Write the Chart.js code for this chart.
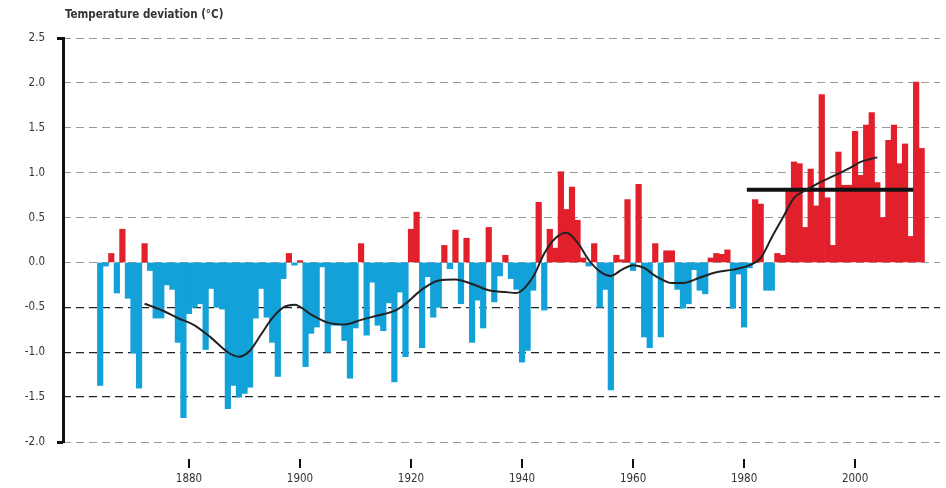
<!DOCTYPE html>
<html>
<head>
<meta charset="utf-8">
<script src="https://cdn.jsdelivr.net/npm/chart.js@4"></script>
<style>
    body { margin: 0; background: #fff; }
    #box { width: 946px; height: 488px; }
</style>
</head>
<body>
<div id="box"><canvas id="myChart"></canvas></div>
<script>
let firstYear = 1864;
let deviations = [
    -1.37, -0.04, 0.10, -0.34, 0.37, -0.40,
    -1.01, -1.40, 0.21, -0.09, -0.62, -0.62, -0.25, -0.30, -0.89, -1.73,
    -0.57, -0.50, -0.46, -0.97, -0.29, -0.50, -0.52, -1.63, -1.37, -1.50,
    -1.46, -1.39, -0.62, -0.29, -0.61, -0.89, -1.27, -0.18, 0.10, -0.03,
    0.02, -1.16, -0.79, -0.72, -0.05, -1.00, -0.70, -0.70, -0.87, -1.29,
    -0.73, 0.21, -0.81, -0.22, -0.70, -0.76, -0.45, -1.33, -0.33, -1.05,
    0.37, 0.56, -0.95, -0.16, -0.61, -0.50, 0.19, -0.07, 0.36, -0.46,
    0.27, -0.89, -0.42, -0.73, 0.39, -0.44, -0.15, 0.08, -0.18, -0.30,
    -1.11, -0.98, -0.31, 0.67, -0.53, 0.37, 0.16, 1.01, 0.59, 0.84,
    0.47, 0.05, -0.04, 0.21, -0.50, -0.30, -1.42, 0.08, 0.03, 0.70,
    -0.09, 0.87, -0.83, -0.95, 0.21, -0.83, 0.13, 0.13, -0.30, -0.51,
    -0.46, -0.08, -0.31, -0.35, 0.05, 0.10, 0.09, 0.14, -0.51, -0.13,
    -0.72, -0.06, 0.70, 0.65, -0.31, -0.31, 0.10, 0.08, 0.80, 1.12,
    1.10, 0.39, 1.04, 0.63, 1.87, 0.72, 0.19, 1.23, 0.86, 0.86,
    1.46, 0.97, 1.53, 1.67, 0.89, 0.50, 1.36, 1.53, 1.10, 1.32,
    0.29, 2.01, 1.27
];
let years = deviations.map((v, i) => firstYear + i);

// smoothed trend
let trendYears = [1872, 1875, 1878, 1881, 1884, 1887, 1889, 1891, 1893, 1895, 1897, 1899,
    1902, 1905, 1908, 1911, 1914, 1917, 1919, 1922, 1925, 1928, 1931, 1934, 1937, 1939,
    1942, 1944, 1946, 1948, 1950, 1952, 1954, 1956, 1958, 1960, 1962, 1964, 1967, 1969,
    1972, 1975, 1978, 1981, 1983, 1985, 1987, 1989, 1991, 1993, 1995, 1997, 1999, 2001, 2004];
let trendValues = [-0.46, -0.53, -0.62, -0.70, -0.84, -1.00, -1.05, -0.98, -0.80, -0.62, -0.50, -0.47,
    -0.58, -0.67, -0.69, -0.64, -0.59, -0.54, -0.46, -0.30, -0.20, -0.19, -0.24, -0.31, -0.33, -0.34,
    -0.16, 0.10, 0.27, 0.33, 0.22, 0.03, -0.10, -0.15, -0.08, -0.03, -0.06, -0.15, -0.23, -0.23,
    -0.17, -0.11, -0.08, -0.03, 0.05, 0.28, 0.50, 0.72, 0.80, 0.87, 0.93, 0.99, 1.05, 1.12, 1.17];

// 1981-2010 mean
let meanYears = [1980.5, 2010.5];
let meanValue = 0.81;

let yTicks = [2.5, 2.0, 1.5, 1.0, 0.5, 0, -0.5, -1.0, -1.5, -2.0];
let xTicks = [1880, 1900, 1920, 1940, 1960, 1980, 2000];

const fontFam = "'Liberation Sans Narrow', 'DejaVu Sans Condensed', 'Roboto', sans-serif";
const red = '#e2202b';
const blue = '#12a2d9';

const decor = {
    id: 'decor',
    afterDraw(chart) {
        const c = chart.ctx;
        const area = chart.chartArea;
        const xs = chart.scales.x;
        c.save();
        // y axis with end tabs
        c.fillStyle = '#111';
        c.fillRect(62, area.top - 1, 3, area.bottom - area.top + 2);
        c.fillRect(57, area.top - 1, 6, 3);
        c.fillRect(57, area.bottom - 1, 6, 3);
        // x tick marks
        xTicks.forEach(t => {
            const px = xs.getPixelForValue(t);
            c.fillRect(Math.round(px) - 1, 459, 2, 9);
        });
        // title
        c.font = "600 11.5px " + fontFam;
        c.fillStyle = '#333';
        c.textBaseline = 'middle';
        c.fillText('Temperature deviation (°C)', 65, 15);
        c.restore();
    }
};

window.addEventListener("load", () => {
    const ctx = document.getElementById('myChart').getContext('2d');
    const myChart = new Chart(ctx, {
        type: 'bar',
        data: {
            datasets: [{
                type: 'line',
                data: trendYears.map((y, i) => ({ x: y, y: trendValues[i] })),
                borderColor: '#222',
                borderWidth: 2,
                pointRadius: 0,
                cubicInterpolationMode: 'monotone',
                order: 0
            }, {
                type: 'line',
                data: meanYears.map(y => ({ x: y, y: meanValue })),
                borderColor: '#111',
                borderWidth: 4,
                pointRadius: 0,
                order: 0
            }, {
                data: years.map((y, i) => ({ x: y, y: deviations[i] })),
                backgroundColor: deviations.map(v => v >= 0 ? red : blue),
                borderWidth: 0,
                barPercentage: 1,
                categoryPercentage: 1,
                order: 2
            }]
        },
        options: {
            responsive: true,
            maintainAspectRatio: false,
            animation: false,
            layout: { padding: { top: 38, right: 6, left: 0, bottom: 0 } },
            plugins: {
                legend: { display: false },
                tooltip: { enabled: false }
            },
            scales: {
                x: {
                    type: 'linear',
                    offset: false,
                    min: 1857.3,
                    max: 2015.3,
                    afterBuildTicks: s => { s.ticks = xTicks.map(v => ({ value: v })); },
                    afterFit: s => { s.height = 46; },
                    grid: { display: false, drawTicks: false },
                    border: { display: false },
                    ticks: {
                        padding: 30,
                        maxRotation: 0,
                        color: '#333',
                        font: { family: fontFam, size: 11.5 },
                        callback: v => String(v)
                    }
                },
                y: {
                    min: -2.0,
                    max: 2.5,
                    afterBuildTicks: s => { s.ticks = yTicks.map(v => ({ value: v })); },
                    afterFit: s => { s.width = 63; },
                    grid: {
                        drawTicks: false,
                        color: c => c.tick && c.tick.value < 0 && c.tick.value > -2 ? '#222' : '#999',
                        lineWidth: c => c.tick && c.tick.value < 0 && c.tick.value > -2 ? 1.3 : 1
                    },
                    border: { display: false, dash: [8, 5] },
                    ticks: {
                        padding: 18,
                        color: '#333',
                        font: { family: fontFam, size: 11.5 },
                        callback: v => v.toFixed(1)
                    }
                }
            }
        },
        plugins: [decor]
    });
});
</script>
</body>
</html>
